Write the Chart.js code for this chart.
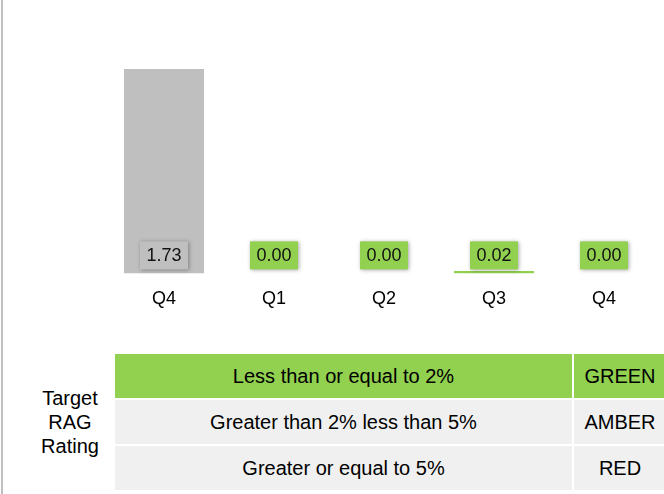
<!DOCTYPE html>
<html>
<head>
<meta charset="utf-8">
<script src="https://cdn.jsdelivr.net/npm/chart.js@4"></script>
<style>
  html, body { margin: 0; padding: 0; background: #fff; }
  body { width: 664px; height: 494px; position: relative; overflow: hidden; font-family: "Liberation Sans", Arial, sans-serif; }
  #edge { position: absolute; left: 1px; top: 0; width: 2px; height: 494px; background: #c0c0c0; }
  #wrap { position: absolute; left: 0; top: 0; width: 664px; height: 336px; }
  #rag { position: absolute; left: 20px; top: 354px; width: 100px; height: 136px; display: flex; align-items: center; justify-content: center; text-align: center; font-size: 20px; line-height: 24px; color: #000; }
  #tbl { position: absolute; left: 115px; top: 354px; display: grid; grid-template-columns: 457px 92px; grid-auto-rows: 44px; gap: 2px; font-size: 20px; color: #000; }
  #tbl div { display: flex; align-items: center; justify-content: center; background: #f0f0f0; }
  #tbl div.g { background: #92d050; }
</style>
</head>
<body>
<div id="edge"></div>
<div id="wrap"><canvas id="chart" width="664" height="336"></canvas></div>
<div id="rag">Target<br>RAG<br>Rating</div>
<div id="tbl"></div>
<script>
var quarters = ["Q4", "Q1", "Q2", "Q3", "Q4"];
var values = [1.73, 0.00, 0.00, 0.02, 0.00];
var barColors = ["#bfbfbf", "#92d050", "#92d050", "#92d050", "#92d050"];
var ragRanges = ["Less than or equal to 2%", "Greater than 2% less than 5%", "Greater or equal to 5%"];
var ragNames = ["GREEN", "AMBER", "RED"];

// rag table
var tbl = document.getElementById("tbl");
ragRanges.forEach(function (r, i) {
    var a = document.createElement("div");
    var b = document.createElement("div");
    a.textContent = r;
    b.textContent = ragNames[i];
    if (i == 0) { a.className = "g"; b.className = "g"; }
    tbl.appendChild(a);
    tbl.appendChild(b);
});

var valueBoxes = {
    id: "valueBoxes",
    afterDatasetsDraw: function (chart) {
        var ctx = chart.ctx;
        var meta = chart.getDatasetMeta(0);
        var y0 = chart.scales.y.getPixelForValue(0);
        ctx.save();
        ctx.font = "18px 'Liberation Sans', Arial, sans-serif";
        ctx.textAlign = "center";
        ctx.textBaseline = "middle";
        meta.data.forEach(function (bar, i) {
            var cx = bar.x, cy = y0 - 18;
            ctx.save();
            ctx.shadowColor = "rgba(0,0,0,0.35)";
            ctx.shadowBlur = 4;
            ctx.shadowOffsetX = 1;
            ctx.shadowOffsetY = 1;
            ctx.fillStyle = barColors[i];
            ctx.fillRect(cx - 24, cy - 14, 48, 28);
            ctx.restore();
            ctx.fillStyle = "#111";
            ctx.fillText(values[i].toFixed(2), cx, cy + 1);
        });
        ctx.restore();
    }
};

new Chart(document.getElementById("chart").getContext("2d"), {
    type: "bar",
    data: {
        labels: quarters,
        datasets: [{
            data: values,
            backgroundColor: barColors,
            borderWidth: 0,
            categoryPercentage: 1,
            barPercentage: 0.727
        }]
    },
    options: {
        responsive: false,
        animation: false,
        layout: { padding: { top: 37, left: 109, right: 5, bottom: 11 } },
        plugins: { legend: { display: false }, tooltip: { enabled: false } },
        scales: {
            x: {
                grid: { display: false, drawTicks: false },
                border: { display: false },
                ticks: { color: "#000", padding: 15, font: { size: 18, family: "'Liberation Sans', Arial, sans-serif" } }
            },
            y: { display: false, min: 0, max: 2 }
        }
    },
    plugins: [valueBoxes]
});
</script>
</body>
</html>
